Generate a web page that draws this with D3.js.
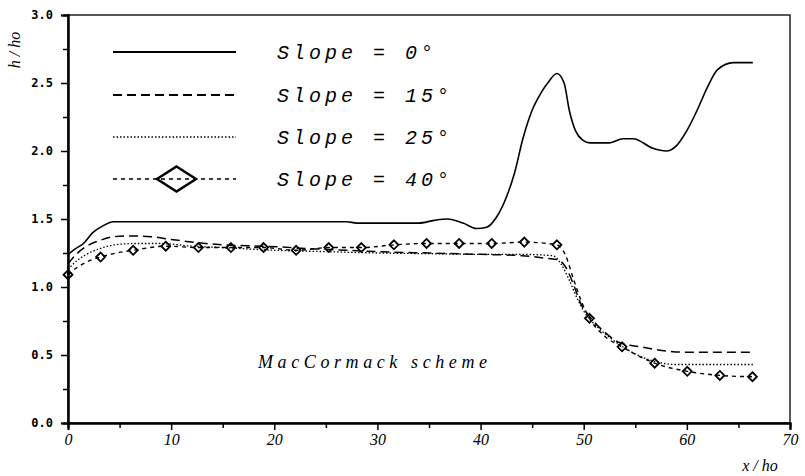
<!DOCTYPE html>
<html><head><meta charset="utf-8">
<script src="https://cdn.jsdelivr.net/npm/d3@7"></script>
<style>html,body{margin:0;padding:0;background:#fff;}</style>
</head><body>
<svg id="chart" width="805" height="476"></svg>
<script>
// ---- data ----
const seriesNames = ["Slope = 0°", "Slope = 15°", "Slope = 25°", "Slope = 40°"];
const xTicks = [0, 10, 20, 30, 40, 50, 60, 70];
const xMinorTicks = [5, 15, 25, 35, 45, 55, 65];
const yTicks = [0, 0.5, 1.0, 1.5, 2.0, 2.5, 3.0];
const yMinorTicks = [0.25, 0.75, 1.25, 1.75, 2.25, 2.75];

const s0X = [0, 0.7, 1.5, 2.4, 3.4, 4.4, 6, 10, 20, 27, 28, 34, 35.5, 36.8, 38.3, 39.6, 40.6, 41.6, 42.5, 43.3, 44.1, 45.0, 45.8, 46.6, 47.4, 48.1, 48.6, 49.2, 49.9, 50.6, 52.5, 53.8, 54.8, 56.7, 58.0, 59.0, 60.0, 61.0, 62.0, 63.0, 64.5, 66.4];
const s0Y = [1.24, 1.28, 1.32, 1.40, 1.45, 1.48, 1.48, 1.48, 1.48, 1.48, 1.47, 1.47, 1.49, 1.50, 1.47, 1.43, 1.44, 1.52, 1.66, 1.84, 2.09, 2.30, 2.42, 2.51, 2.57, 2.50, 2.30, 2.15, 2.08, 2.06, 2.06, 2.09, 2.09, 2.02, 2.00, 2.04, 2.15, 2.30, 2.47, 2.60, 2.65, 2.65];

const s15X = [0, 0.8, 1.8, 3, 4.5, 6, 8, 10, 12, 15, 19, 24, 27, 30, 35, 40, 44, 46.5, 47.5, 48.3, 49.0, 49.7, 50.6, 52.0, 53.5, 55.5, 58.0, 60.0, 66.4];
const s15Y = [1.17, 1.24, 1.30, 1.34, 1.37, 1.375, 1.37, 1.35, 1.33, 1.31, 1.30, 1.28, 1.27, 1.26, 1.25, 1.24, 1.23, 1.21, 1.20, 1.14, 1.02, 0.88, 0.78, 0.67, 0.59, 0.56, 0.53, 0.52, 0.52];

const s25X = [0, 0.8, 1.8, 3, 4.5, 6.5, 9, 12, 15, 20, 25, 30, 35, 40, 44, 47, 47.8, 48.6, 49.4, 50.2, 51.0, 52.5, 54.0, 55.5, 57.0, 59.0, 66.4];
const s25Y = [1.13, 1.19, 1.24, 1.28, 1.31, 1.32, 1.32, 1.30, 1.29, 1.27, 1.26, 1.25, 1.245, 1.24, 1.24, 1.23, 1.17, 1.05, 0.91, 0.80, 0.73, 0.63, 0.55, 0.49, 0.45, 0.43, 0.43];

const s40LineX = [0, 1, 2, 3.16, 4.7, 6.32, 9.48, 12.64, 15.8, 18.96, 22.12, 25.28, 28.44, 31.6, 34.76, 37.92, 41.08, 44.24, 47.4, 48.2, 49.0, 49.8, 50.56, 52.0, 53.72, 56.88, 60.04, 63.2, 66.36];
const s40LineY = [1.09, 1.15, 1.19, 1.22, 1.25, 1.27, 1.30, 1.29, 1.29, 1.29, 1.27, 1.29, 1.29, 1.31, 1.32, 1.32, 1.32, 1.33, 1.31, 1.24, 1.06, 0.89, 0.77, 0.64, 0.56, 0.44, 0.38, 0.35, 0.34];

const s40MarkX = [0, 3.16, 6.32, 9.48, 12.64, 15.8, 18.96, 22.12, 25.28, 28.44, 31.6, 34.76, 37.92, 41.08, 44.24, 47.4, 50.56, 53.72, 56.88, 60.04, 63.2, 66.36];
const s40MarkY = [1.09, 1.22, 1.27, 1.30, 1.29, 1.29, 1.29, 1.27, 1.29, 1.29, 1.31, 1.32, 1.32, 1.32, 1.33, 1.31, 0.77, 0.56, 0.44, 0.38, 0.35, 0.34];

// ---- chart ----
const svg = d3.select("#chart");
const x = d3.scaleLinear().domain([0, 70]).range([68, 790]);
const y = d3.scaleLinear().domain([0, 3]).range([423, 15]);

svg.append("rect").attr("width", 805).attr("height", 476).attr("fill", "#fff");

// frame
svg.append("rect").attr("x", x(0)).attr("y", y(3)).attr("width", x(70) - x(0)).attr("height", y(0) - y(3))
  .attr("fill", "none").attr("stroke", "#222").attr("stroke-width", 1.5);

// axes
const yAxis = svg.append("g").attr("transform", `translate(${x(0)},0)`)
  .call(d3.axisLeft(y).tickValues(yTicks).tickFormat(d3.format(".1f")).tickSize(7).tickPadding(8));
const yMinor = svg.append("g").attr("transform", `translate(${x(0)},0)`)
  .call(d3.axisLeft(y).tickValues(yMinorTicks).tickFormat("").tickSize(5));
const xAxis = svg.append("g").attr("transform", `translate(0,${y(0)})`)
  .call(d3.axisBottom(x).tickValues(xTicks).tickFormat(d3.format("d")).tickSize(7).tickPadding(4));
const xMinor = svg.append("g").attr("transform", `translate(0,${y(0)})`)
  .call(d3.axisBottom(x).tickValues(xMinorTicks).tickFormat("").tickSize(5));
[yAxis, yMinor, xAxis, xMinor].forEach(g => {
  g.select(".domain").attr("stroke", "#000").attr("stroke-width", 2);
  g.selectAll(".tick line").attr("stroke", "#000").attr("stroke-width", 1.5);
});
yAxis.selectAll("text").attr("font-family", "DejaVu Sans Mono").attr("font-weight", "bold")
  .attr("font-size", 12).attr("fill", "#000");
xAxis.selectAll("text").attr("font-family", "Liberation Serif").attr("font-style", "italic")
  .attr("font-size", 16).attr("fill", "#000");

// axis titles
svg.append("text").attr("transform", "translate(20,50) rotate(-90)").attr("text-anchor", "middle")
  .attr("font-family", "Liberation Serif").attr("font-style", "italic").attr("font-size", 16)
  .text("h / ho");
svg.append("text").attr("x", 760).attr("y", 471).attr("text-anchor", "middle")
  .attr("font-family", "Liberation Serif").attr("font-style", "italic").attr("font-size", 16)
  .text("x / ho");

// lines
const line = d3.line().x(d => x(d[0])).y(d => y(d[1])).curve(d3.curveMonotoneX);
const styles = [
  { dash: null, w: 1.6 },
  { dash: "9,5", w: 1.5 },
  { dash: "1.5,2", w: 1.3 },
  { dash: "4,4", w: 1.4 }
];
const seriesData = [
  d3.zip(s0X, s0Y), d3.zip(s15X, s15Y), d3.zip(s25X, s25Y), d3.zip(s40LineX, s40LineY)
];
seriesData.forEach((data, i) => {
  svg.append("path").datum(data).attr("d", line).attr("fill", "none").attr("stroke", "#000")
    .attr("stroke-width", styles[i].w).attr("stroke-dasharray", styles[i].dash);
});

function diamond(cx, cy, hw, hh) {
  return `M${cx},${cy - hh}L${cx + hw},${cy}L${cx},${cy + hh}L${cx - hw},${cy}Z`;
}
svg.append("g").selectAll("path").data(d3.zip(s40MarkX, s40MarkY)).join("path")
  .attr("d", d => diamond(x(d[0]), y(d[1]), 4.5, 4.5))
  .attr("fill", "none").attr("stroke", "#000").attr("stroke-width", 1.8);

// legend
const legY = [52, 95, 137, 179];
seriesNames.forEach((name, i) => {
  svg.append("line").attr("x1", 113).attr("x2", 236).attr("y1", legY[i]).attr("y2", legY[i])
    .attr("stroke", "#000").attr("stroke-width", styles[i].w + 0.3)
    .attr("stroke-dasharray", styles[i].dash);
  svg.append("text").attr("x", 277).attr("y", legY[i] + 7)
    .attr("font-family", "Liberation Mono").attr("font-style", "italic").attr("font-size", 20)
    .attr("letter-spacing", 4).attr("fill", "#000").text(name);
});
svg.append("path").attr("d", diamond(176.5, legY[3], 19.5, 12.5))
  .attr("fill", "none").attr("stroke", "#000").attr("stroke-width", 2.5);

// annotation
svg.append("text").attr("x", 258).attr("y", 368)
  .attr("font-family", "Liberation Serif").attr("font-style", "italic").attr("font-size", 18)
  .attr("textLength", 229).attr("lengthAdjust", "spacing").text("MacCormack scheme");
</script>
</body></html>
